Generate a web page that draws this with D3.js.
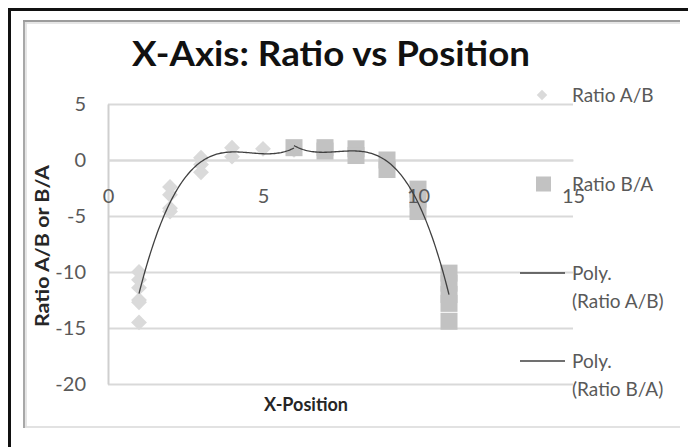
<!DOCTYPE html>
<html><head><meta charset="utf-8">
<script src="https://cdn.jsdelivr.net/npm/d3@7"></script>
<style>html,body{margin:0;padding:0;background:#fff;} svg{display:block;}</style>
</head><body>
<svg id="chart" width="688" height="447"></svg>
<script>
// Axis ticks
const xTicks = [0, 5, 10, 15];
const yTicks = [-20, -15, -10, -5, 0, 5];

// Ratio A/B readings (position, ratio)
const abX = [1, 1, 1, 1, 1, 1, 2, 2, 2, 2, 3, 3, 3, 4, 4, 5, 6];
const abY = [-10, -10.7, -11.4, -12.5, -12.7, -14.5, -2.4, -3.1, -4.3, -4.6, 0.2, -0.4, -1.1, 1.1, 0.3, 1.0, 0.9];

// Ratio B/A readings (position, ratio)
const baX = [6, 7, 7, 8, 8, 9, 9, 10, 10, 10, 11, 11, 11, 11, 11];
const baY = [1.1, 1.1, 0.8, 1.0, 0.4, 0, -0.85, -2.6, -3.5, -4.6, -10.1, -11, -12, -12.8, -14.4];

const legendLabels = [["Ratio A/B"], ["Ratio B/A"], ["Poly.", "(Ratio A/B)"], ["Poly.", "(Ratio B/A)"]];
const titleText = "X-Axis: Ratio vs Position";
const xTitle = "X-Position";
const yTitle = "Ratio A/B or B/A";
const trendOrder = 3;

const svg = d3.select("#chart");
const FONT = "Lato, 'Open Sans', sans-serif";

// Outer frame
svg.append("path").attr("d", "M9.5,447 V9.5 H688").attr("fill", "none")
  .attr("stroke", "#111").attr("stroke-width", 3);

// Chart area frame (shadowed edges)
svg.append("line").attr("x1", 24).attr("x2", 680).attr("y1", 427).attr("y2", 427)
  .attr("stroke", "#e2e2e2").attr("stroke-width", 2);
svg.append("line").attr("x1", 24).attr("x2", 24).attr("y1", 20).attr("y2", 428)
  .attr("stroke", "#a8a8a8").attr("stroke-width", 2);
svg.append("line").attr("x1", 26).attr("x2", 26).attr("y1", 22).attr("y2", 427)
  .attr("stroke", "#dcdcdc").attr("stroke-width", 1.5);
svg.append("line").attr("x1", 23).attr("x2", 680).attr("y1", 21).attr("y2", 21)
  .attr("stroke", "#9c9c9c").attr("stroke-width", 2);
svg.append("line").attr("x1", 25).attr("x2", 680).attr("y1", 23).attr("y2", 23)
  .attr("stroke", "#dedede").attr("stroke-width", 1.5);

const x = d3.scaleLinear().domain([0, 15]).range([108, 573]);
const y = d3.scaleLinear().domain([-20, 5]).range([384, 104]);

// Gridlines
const grid = svg.append("g").attr("transform", "translate(108,0)")
  .call(d3.axisLeft(y).tickValues(yTicks).tickSize(-(573 - 108)).tickFormat(""));
grid.select(".domain").remove();
grid.selectAll("line").attr("stroke", "#d9d9d9").attr("stroke-width", 2);

// Vertical axis line and labels
const yAxis = svg.append("g").attr("transform", "translate(108,0)")
  .call(d3.axisLeft(y).tickValues(yTicks).tickSize(0).tickSizeOuter(0).tickPadding(22).tickFormat(d => String(d)));
yAxis.select(".domain").attr("stroke", "#cfcfcf").attr("stroke-width", 2);
yAxis.selectAll("text").attr("font-family", FONT).attr("font-size", 20).attr("fill", "#595959");

// Horizontal axis line crossing at zero
const xLine = svg.append("g").attr("transform", `translate(0,${y(0)})`)
  .call(d3.axisBottom(x).tickValues([]).tickSize(0).tickSizeOuter(0));
xLine.select(".domain").attr("stroke", "#d9d9d9").attr("stroke-width", 2);

// Markers
const abPts = abX.map((v, i) => [v, abY[i]]);
const baPts = baX.map((v, i) => [v, baY[i]]);
const diamond = d3.symbol().type(d3.symbolDiamond2).size(160);
svg.append("g").selectAll("path").data(abPts).join("path")
  .attr("d", diamond).attr("transform", d => `translate(${x(d[0])},${y(d[1])})`)
  .attr("fill", "#dadada");
svg.append("g").selectAll("rect").data(baPts).join("rect")
  .attr("x", d => x(d[0]) - 8.5).attr("y", d => y(d[1]) - 8.5)
  .attr("width", 17).attr("height", 17).attr("fill", "#c2c2c2");

// Horizontal axis labels sit above the markers
const xAxis = svg.append("g").attr("transform", `translate(0,${y(0)})`)
  .call(d3.axisBottom(x).tickValues(xTicks).tickSize(0).tickSizeOuter(0).tickPadding(29).tickFormat(d => String(d)));
xAxis.select(".domain").remove();
xAxis.selectAll("text").attr("font-family", FONT).attr("font-size", 20).attr("fill", "#595959");

// Least-squares polynomial trendline
function polyfit(xs, ys, order) {
  const n = order + 1;
  const A = Array.from({length: n}, () => new Array(n + 1).fill(0));
  for (let r = 0; r < n; r++) {
    for (let c = 0; c < n; c++) A[r][c] = d3.sum(xs, v => Math.pow(v, r + c));
    A[r][n] = d3.sum(xs, (v, i) => ys[i] * Math.pow(v, r));
  }
  for (let i = 0; i < n; i++) {
    let p = i;
    for (let k = i + 1; k < n; k++) if (Math.abs(A[k][i]) > Math.abs(A[p][i])) p = k;
    [A[i], A[p]] = [A[p], A[i]];
    for (let k = 0; k < n; k++) {
      if (k === i) continue;
      const f = A[k][i] / A[i][i];
      for (let c = i; c <= n; c++) A[k][c] -= f * A[i][c];
    }
  }
  return A.map((row, i) => row[n] / row[i]);
}
function trendPath(xs, ys) {
  const coef = polyfit(xs, ys, trendOrder);
  const [lo, hi] = d3.extent(xs);
  const pts = d3.range(0, 121).map(k => {
    const t = lo + (hi - lo) * k / 120;
    return [t, coef.reduce((s, c, j) => s + c * Math.pow(t, j), 0)];
  });
  return d3.line().x(d => x(d[0])).y(d => y(d[1]))(pts);
}
svg.append("path").attr("d", trendPath(abX, abY)).attr("fill", "none")
  .attr("stroke", "#404040").attr("stroke-width", 1.3);
svg.append("path").attr("d", trendPath(baX, baY)).attr("fill", "none")
  .attr("stroke", "#404040").attr("stroke-width", 1.3);

// Titles
svg.append("text").attr("x", 132).attr("y", 66).attr("font-family", FONT).attr("font-weight", "bold")
  .attr("font-size", 34).attr("fill", "#111").attr("textLength", 398).attr("lengthAdjust", "spacingAndGlyphs")
  .text(titleText);
svg.append("text").attr("x", 306).attr("y", 411).attr("text-anchor", "middle").attr("font-family", FONT)
  .attr("font-weight", "bold").attr("font-size", 18).attr("fill", "#262626").text(xTitle);
svg.append("text").attr("transform", "translate(49,246) rotate(-90)").attr("text-anchor", "middle")
  .attr("font-family", FONT).attr("font-weight", "bold").attr("font-size", 18).attr("fill", "#262626")
  .attr("textLength", 162).attr("lengthAdjust", "spacingAndGlyphs").text(yTitle);

// Legend
const legY = [95, 184, 273, 361];
const leg = svg.append("g");
leg.append("path").attr("d", d3.symbol().type(d3.symbolDiamond2).size(70))
  .attr("transform", `translate(542,${legY[0]})`).attr("fill", "#dadada");
leg.append("rect").attr("x", 536).attr("y", legY[1] - 7.5).attr("width", 15).attr("height", 15).attr("fill", "#c2c2c2");
[2, 3].forEach(i => leg.append("line").attr("x1", 520).attr("x2", 565).attr("y1", legY[i]).attr("y2", legY[i])
  .attr("stroke", "#404040").attr("stroke-width", 1.3));
legendLabels.forEach((lines, i) => {
  const t = leg.append("text").attr("font-family", FONT).attr("font-size", 19).attr("fill", "#595959");
  lines.forEach((s, j) => t.append("tspan").attr("x", 572).attr("y", legY[i] + 7 + j * 28).text(s));
});
</script>
</body></html>
